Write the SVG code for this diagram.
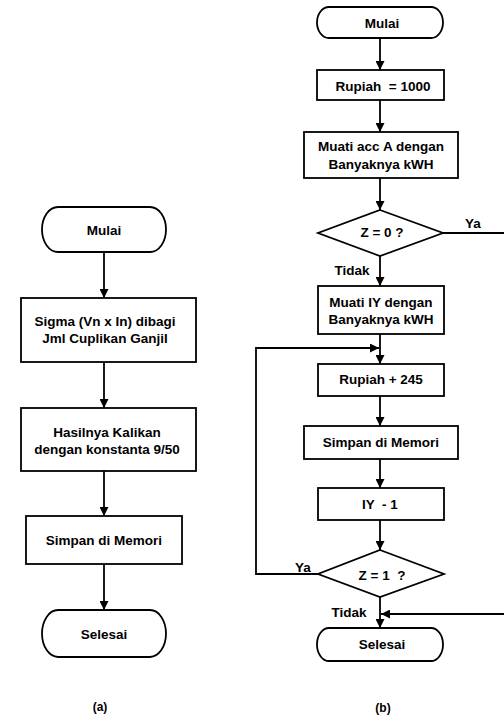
<svg xmlns="http://www.w3.org/2000/svg" width="504" height="720" viewBox="0 0 504 720">
  <style>
    .shape { fill: #fff; stroke: #000; stroke-width: 1.8; }
    .line { fill: none; stroke: #000; stroke-width: 1.8; }
    .lbl { font-family: "Liberation Sans", Arial, sans-serif; font-weight: bold; font-size: 13.5px; fill: #000; text-anchor: middle; dominant-baseline: central; white-space: pre; }
  </style>
  <defs>
    <marker id="arrow" viewBox="0 0 10 10" refX="10" refY="5" markerWidth="9" markerHeight="9" markerUnits="userSpaceOnUse" orient="auto">
      <path d="M0,0 L10,5 L0,10 z" fill="#000"/>
    </marker>
  </defs>
  <rect width="504" height="720" fill="#fff"/>

  <!-- Flowchart (a) -->
  <g id="a-mulai">
    <rect class="shape" x="42" y="207" width="124" height="45" rx="16" ry="22.5"/>
    <text class="lbl" x="104" y="230">Mulai</text>
  </g>
  <g id="a-sigma">
    <rect class="shape" x="21" y="298" width="175" height="64"/>
    <text class="lbl" x="105" y="321">Sigma (Vn x In) dibagi</text>
    <text class="lbl" x="105" y="338">Jml Cuplikan Ganjil</text>
  </g>
  <g id="a-kali">
    <rect class="shape" x="21" y="408" width="175" height="63"/>
    <text class="lbl" x="107" y="432">Hasilnya Kalikan</text>
    <text class="lbl" x="107" y="449">dengan konstanta 9/50</text>
  </g>
  <g id="a-simpan">
    <rect class="shape" x="26" y="516" width="156" height="48"/>
    <text class="lbl" x="104" y="540">Simpan di Memori</text>
  </g>
  <g id="a-selesai">
    <rect class="shape" x="42" y="610" width="124" height="47" rx="16" ry="23.5"/>
    <text class="lbl" x="104" y="634">Selesai</text>
  </g>
  <text class="lbl" x="100" y="707" style="font-size:12px">(a)</text>

  <!-- Flowchart (b) -->
  <g id="b-mulai">
    <rect class="shape" x="317" y="7" width="126" height="31" rx="12" ry="15.5"/>
    <text class="lbl" x="382" y="23">Mulai</text>
  </g>
  <g id="b-rupiah">
    <rect class="shape" x="317" y="70" width="127" height="30"/>
    <text class="lbl" x="383" y="86">Rupiah  = 1000</text>
  </g>
  <g id="b-muati-a">
    <rect class="shape" x="304" y="132" width="154" height="46"/>
    <text class="lbl" x="381" y="146">Muati acc A dengan</text>
    <text class="lbl" x="381" y="164">Banyaknya kWH</text>
  </g>
  <g id="b-z0">
    <polygon class="shape" points="380,210 443,233 380,256 318,233"/>
    <text class="lbl" x="382" y="232">Z = 0 ?</text>
  </g>
  <g id="b-muati-iy">
    <rect class="shape" x="318" y="286" width="126" height="48"/>
    <text class="lbl" x="381" y="302">Muati IY dengan</text>
    <text class="lbl" x="381" y="319">Banyaknya kWH</text>
  </g>
  <g id="b-tambah">
    <rect class="shape" x="318" y="364" width="126" height="32"/>
    <text class="lbl" x="381" y="379">Rupiah + 245</text>
  </g>
  <g id="b-simpan">
    <rect class="shape" x="304" y="426" width="154" height="33"/>
    <text class="lbl" x="381" y="442">Simpan di Memori</text>
  </g>
  <g id="b-kurang">
    <rect class="shape" x="318" y="488" width="126" height="32"/>
    <text class="lbl" x="380" y="504">IY  - 1</text>
  </g>
  <g id="b-z1">
    <polygon class="shape" points="380,550 444,574 380,597 318,574"/>
    <text class="lbl" x="382" y="575">Z = 1  ?</text>
  </g>
  <g id="b-selesai">
    <rect class="shape" x="317" y="628" width="126" height="33" rx="12" ry="16.5"/>
    <text class="lbl" x="382" y="644">Selesai</text>
  </g>
  <text class="lbl" x="383" y="708" style="font-size:12px">(b)</text>

  <!-- Connectors -->
  <g id="connectors">
    <line class="line" x1="104" y1="252" x2="104" y2="298" marker-end="url(#arrow)"/>
    <line class="line" x1="104" y1="362" x2="104" y2="408" marker-end="url(#arrow)"/>
    <line class="line" x1="104" y1="471" x2="104" y2="516" marker-end="url(#arrow)"/>
    <line class="line" x1="104" y1="564" x2="104" y2="610" marker-end="url(#arrow)"/>

    <line class="line" x1="380" y1="38" x2="380" y2="70" marker-end="url(#arrow)"/>
    <line class="line" x1="380" y1="100" x2="380" y2="132" marker-end="url(#arrow)"/>
    <line class="line" x1="380" y1="178" x2="380" y2="210" marker-end="url(#arrow)"/>
    <line class="line" x1="380" y1="256" x2="380" y2="286" marker-end="url(#arrow)"/>
    <line class="line" x1="380" y1="334" x2="380" y2="364" marker-end="url(#arrow)"/>
    <line class="line" x1="380" y1="396" x2="380" y2="426" marker-end="url(#arrow)"/>
    <line class="line" x1="380" y1="459" x2="380" y2="488" marker-end="url(#arrow)"/>
    <line class="line" x1="380" y1="520" x2="380" y2="550" marker-end="url(#arrow)"/>
    <line class="line" x1="380" y1="597" x2="380" y2="628" marker-end="url(#arrow)"/>
    <line class="line" x1="443" y1="233" x2="504" y2="233"/>
    <polyline class="line" points="318,574 256,574 256,348 379,348" marker-end="url(#arrow)"/>
    <line class="line" x1="504" y1="614" x2="381" y2="614" marker-end="url(#arrow)"/>

    <text class="lbl" x="473" y="223">Ya</text>
    <text class="lbl" x="352" y="270">Tidak</text>
    <text class="lbl" x="303" y="567">Ya</text>
    <text class="lbl" x="349" y="612">Tidak</text>
  </g>
</svg>
